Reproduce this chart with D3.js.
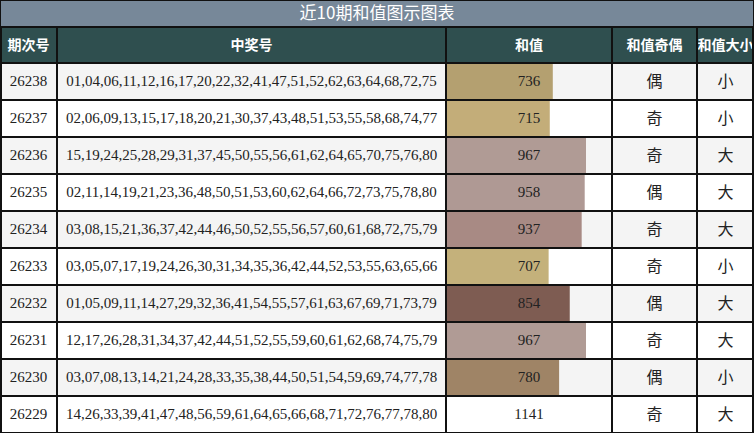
<!DOCTYPE html>
<html><head><meta charset="utf-8">
<script src="https://cdn.jsdelivr.net/npm/d3@7"></script>
<style>body{margin:0;background:#fff}</style></head>
<body><svg id="c" width="754" height="433"></svg>
<script>
const title = "近10期和值图示图表";
const headers = ["期次号","中奖号","和值","和值奇偶","和值大小"];
const periods = ["26238","26237","26236","26235","26234","26233","26232","26231","26230","26229"];
const numbers = [
"01,04,06,11,12,16,17,20,22,32,41,47,51,52,62,63,64,68,72,75",
"02,06,09,13,15,17,18,20,21,30,37,43,48,51,53,55,58,68,74,77",
"15,19,24,25,28,29,31,37,45,50,55,56,61,62,64,65,70,75,76,80",
"02,11,14,19,21,23,36,48,50,51,53,60,62,64,66,72,73,75,78,80",
"03,08,15,21,36,37,42,44,46,50,52,55,56,57,60,61,68,72,75,79",
"03,05,07,17,19,24,26,30,31,34,35,36,42,44,52,53,55,63,65,66",
"01,05,09,11,14,27,29,32,36,41,54,55,57,61,63,67,69,71,73,79",
"12,17,26,28,31,34,37,42,44,51,52,55,59,60,61,62,68,74,75,79",
"03,07,08,13,14,21,24,28,33,35,38,44,50,51,54,59,69,74,77,78",
"14,26,33,39,41,47,48,56,59,61,64,65,66,68,71,72,76,77,78,80"];
const sums = [736,715,967,958,937,707,854,967,780,1141];
const parity = ["偶","奇","奇","偶","奇","奇","偶","奇","偶","奇"];
const size = ["小","小","大","大","大","小","大","大","小","大"];
const barColors = ["#b4a070","#c3ad79","#b09b95","#af9994","#a88a84","#c4b17b","#7e5c52","#b09b95","#9f8466","#ffffff"];

const svg = d3.select("#c");
const W=754, titleH=26, headH=36, rowH=37;
const colX=[0,57,446,612,697,754];
svg.append("rect").attr("width",W).attr("height",titleH).attr("fill","#778899");
svg.append("text").attr("x",W/2).attr("y",titleH/2+1).attr("text-anchor","middle").attr("dominant-baseline","middle")
 .attr("fill","#fff").attr("font-family","Noto Sans CJK SC").attr("font-size",17).text(title);
const y0=titleH+1;
svg.append("rect").attr("y",y0).attr("width",W).attr("height",headH).attr("fill","#2f4f4f");
headers.forEach((h,i)=>svg.append("text").attr("x",(colX[i]+colX[i+1])/2).attr("y",y0+headH/2+1)
 .attr("text-anchor","middle").attr("dominant-baseline","middle").attr("fill","#fff").attr("font-weight","bold")
 .attr("font-family","Noto Sans CJK SC").attr("font-size",14).text(h));
const r0=y0+headH;
const x=d3.scaleLinear().domain([0,1141]).range([0,colX[3]-colX[2]-2]);
const rows=svg.append("g");
periods.forEach((p,i)=>{
  const y=r0+i*rowH;
  const g=rows.append("g");
  g.append("rect").attr("x",0).attr("y",y).attr("width",W).attr("height",rowH).attr("fill",i%2===0?"#f4f4f4":"#ffffff");
  g.append("rect").attr("x",colX[2]+1).attr("y",y).attr("width",x(sums[i])).attr("height",rowH).attr("fill",barColors[i]);
  const txt=(v,ci,cjk)=>g.append("text").attr("x",(colX[ci]+colX[ci+1])/2).attr("y",y+rowH/2+1)
    .attr("text-anchor","middle").attr("dominant-baseline","middle").attr("fill","#222")
    .attr("font-family",cjk?"Noto Sans CJK SC":"Liberation Serif").attr("font-size",cjk?16:15).text(v);
  txt(p,0);txt(numbers[i],1);txt(sums[i],2);txt(parity[i],3,true);txt(size[i],4,true);
});
// grid lines
const bottom=r0+rowH*periods.length;
colX.forEach((cx,i)=>svg.append("line").attr("x1",Math.min(Math.max(cx,1),W-1)).attr("x2",Math.min(Math.max(cx,1),W-1))
  .attr("y1",y0).attr("y2",bottom).attr("stroke","#111").attr("stroke-width",2));
for(let i=0;i<=periods.length;i++){
  svg.append("line").attr("x1",0).attr("x2",W).attr("y1",r0+i*rowH).attr("y2",r0+i*rowH).attr("stroke","#111").attr("stroke-width",2);
}
svg.append("line").attr("x1",0).attr("x2",W).attr("y1",y0).attr("y2",y0).attr("stroke","#111").attr("stroke-width",2);
svg.append("rect").attr("x",0.5).attr("y",0.5).attr("width",W-1).attr("height",titleH).attr("fill","none").attr("stroke","#111");
</script></body></html>
